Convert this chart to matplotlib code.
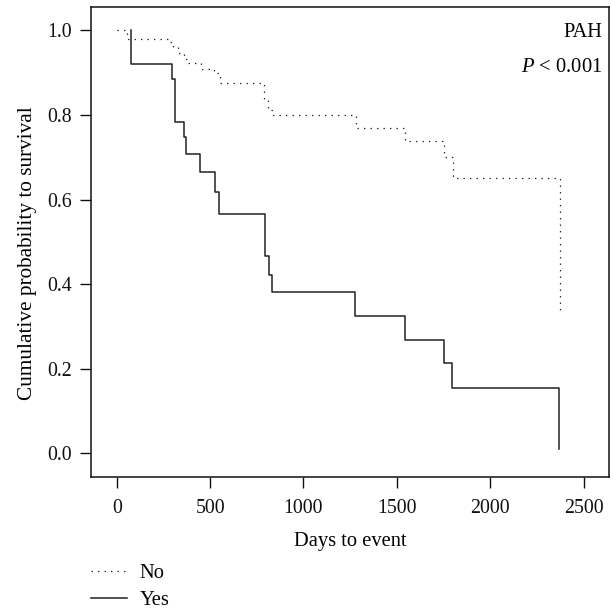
import matplotlib
matplotlib.use("Agg")
import matplotlib.pyplot as plt
import numpy as np

# ---- data ----
yes_times = [75, 294, 314, 362, 373, 446, 526, 546, 794, 814, 830, 1276, 1543, 1752, 1795, 2369]
yes_surv = [0.920, 0.885, 0.783, 0.747, 0.708, 0.666, 0.617, 0.566, 0.466, 0.422, 0.382,
            0.325, 0.268, 0.213, 0.155, 0.010]

no_times = [0, 57, 276, 303, 327, 362, 380, 451, 519, 553, 790, 810, 835, 1279, 1543, 1752, 1802, 2373]
no_surv = [1.0, 0.979, 0.972, 0.960, 0.946, 0.933, 0.923, 0.909, 0.900, 0.876, 0.837, 0.812,
           0.799, 0.770, 0.739, 0.701, 0.652, 0.331]

x_ticks = [0, 500, 1000, 1500, 2000, 2500]
y_ticks = [0.0, 0.2, 0.4, 0.6, 0.8, 1.0]
group_labels = ["No", "Yes"]

plt.rcParams['font.family'] = ['Liberation Serif', 'DejaVu Serif']
plt.rcParams['mathtext.fontset'] = 'custom'
plt.rcParams['mathtext.it'] = 'Liberation Serif:italic'
plt.rcParams['mathtext.rm'] = 'Liberation Serif'
FS_TICK = 14.3
FS = 14.8

W, H = 613, 611
fig = plt.figure(figsize=(W / 100, H / 100), dpi=100)
left, right, top, bottom = 91, 609, 6.7, 477
ax = fig.add_axes([left / W, 1 - bottom / H, (right - left) / W, (bottom - top) / H])

# step curves
yx = [yes_times[0]] + yes_times
yy = [1.0] + yes_surv

ln_no, = ax.step(no_times, no_surv, where='post', color='#222222', lw=0.9,
                 linestyle=(0, (1.1, 4.1)), label=group_labels[0])
ln_yes, = ax.step(yx, yy, where='post', color='#222222', lw=1.1,
                  label=group_labels[1])

ax.set_xlim(-137.6, 2635.5)
ax.set_ylim(-0.056, 1.0558)
ax.set_xticks(x_ticks)
ax.set_yticks(y_ticks)
ax.set_xticklabels([str(t) for t in x_ticks])
ax.set_yticklabels([f"{t:.1f}" for t in y_ticks])
ax.tick_params(axis='both', direction='out', length=8, width=1.0, labelsize=FS_TICK, colors='#111111')
ax.tick_params(axis='x', pad=8)
ax.tick_params(axis='y', pad=6)
for s in ax.spines.values():
    s.set_linewidth(1.1)
    s.set_color('#111111')

ax.set_xlabel("Days to event", fontsize=FS, labelpad=10)
ax.set_ylabel("Cumulative probability to survival", fontsize=15.3, labelpad=7, y=0.476)

ax.text(0.988, 0.935, "PAH", transform=ax.transAxes, ha='right', va='baseline', fontsize=FS)
ax.text(0.988, 0.8605, r"$P$ < 0.001", transform=ax.transAxes, ha='right', va='baseline', fontsize=FS)

fig.legend(handles=[ln_no, ln_yes], loc='upper left', bbox_to_anchor=(91 / W, 1 - 564 / H),
           frameon=False, fontsize=FS, handlelength=1.75, handletextpad=0.6,
           borderpad=0, borderaxespad=0, labelspacing=0.34)

fig.savefig("out.png", dpi=100)
